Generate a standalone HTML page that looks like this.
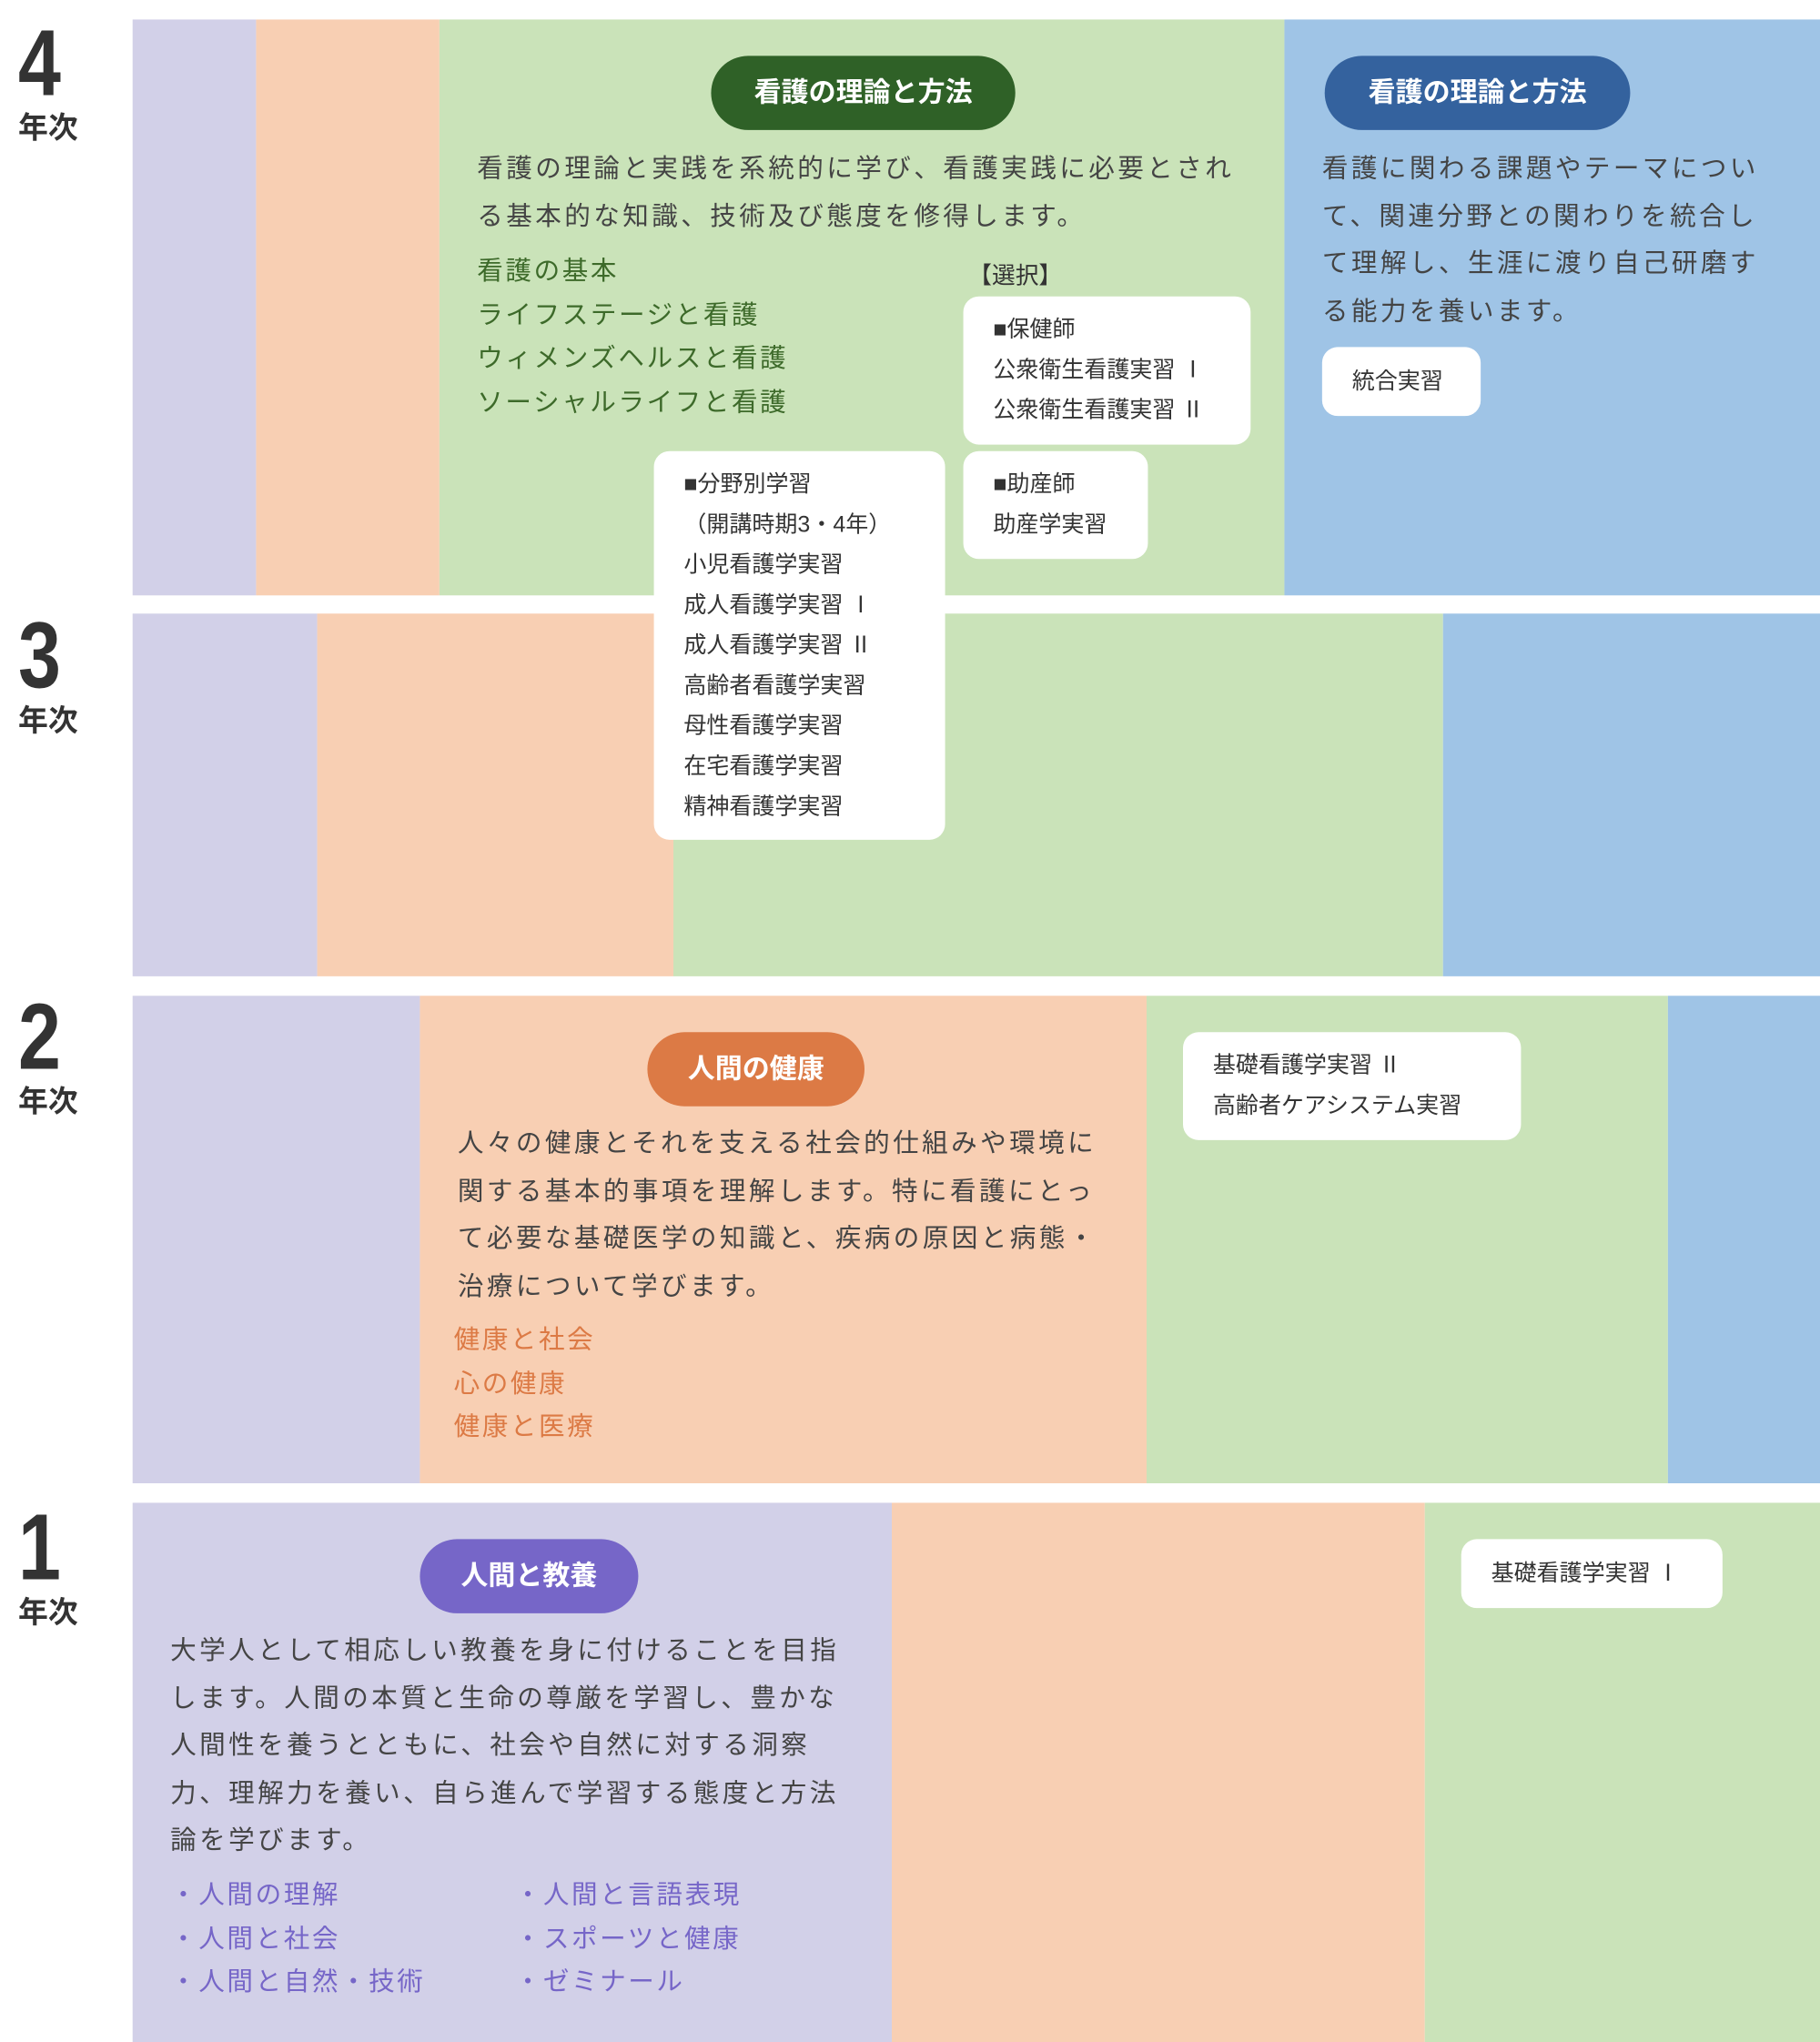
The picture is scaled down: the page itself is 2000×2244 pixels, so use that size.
<!DOCTYPE html>
<html><head><meta charset="utf-8"><style>
html,body{margin:0;padding:0;background:#fff;}
body{width:2000px;height:2244px;overflow:hidden;position:relative;}
#w{position:absolute;left:0;top:0;width:1400px;height:1571px;transform:scale(1.428571);transform-origin:0 0;font-family:"Liberation Sans","Noto Sans CJK JP",sans-serif;color:#333;}
.a{position:absolute;}
.L{background:#d2d0e8}.P{background:#f8cfb3}.G{background:#cae3b9}.B{background:#9fc4e6}
.yr{position:absolute;left:14px;width:60px;text-align:left;}
.yr b{display:block;font-size:72px;line-height:70px;font-weight:bold;color:#333;transform:scaleX(0.82);transform-origin:0 0;}
.yr span{display:block;font-size:23px;font-weight:bold;line-height:28px;margin-top:0px;}
.pill{position:absolute;height:57px;border-radius:29px;color:#fff;font-weight:bold;font-size:21px;line-height:57px;text-align:center;}
.t{position:absolute;font-size:20px;line-height:36.5px;letter-spacing:2.4px;color:#444;white-space:nowrap;}
.li{position:absolute;font-size:20px;line-height:33.5px;letter-spacing:1.8px;white-space:nowrap;}
.box{position:absolute;background:#fff;border-radius:12px;font-size:17.5px;line-height:31px;color:#333;padding:0 0 0 23px;box-sizing:border-box;white-space:nowrap;}
</style></head><body><div id="w">
<div class="a L" style="left:102px;top:15px;width:95px;height:443px"></div>
<div class="a P" style="left:197px;top:15px;width:141px;height:443px"></div>
<div class="a G" style="left:338px;top:15px;width:650px;height:443px"></div>
<div class="a B" style="left:988px;top:15px;width:412px;height:443px"></div>
<div class="a L" style="left:102px;top:472px;width:142px;height:279px"></div>
<div class="a P" style="left:244px;top:472px;width:274px;height:279px"></div>
<div class="a G" style="left:518px;top:472px;width:592px;height:279px"></div>
<div class="a B" style="left:1110px;top:472px;width:290px;height:279px"></div>
<div class="a L" style="left:102px;top:766px;width:221px;height:375px"></div>
<div class="a P" style="left:323px;top:766px;width:559px;height:375px"></div>
<div class="a G" style="left:882px;top:766px;width:401px;height:375px"></div>
<div class="a B" style="left:1283px;top:766px;width:117px;height:375px"></div>
<div class="a L" style="left:102px;top:1156px;width:584px;height:415px"></div>
<div class="a P" style="left:686px;top:1156px;width:410px;height:415px"></div>
<div class="a G" style="left:1096px;top:1156px;width:304px;height:415px"></div>

<div class="yr" style="top:14px"><b>4</b><span>年次</span></div>
<div class="yr" style="top:470px"><b>3</b><span>年次</span></div>
<div class="yr" style="top:763px"><b>2</b><span>年次</span></div>
<div class="yr" style="top:1156px"><b>1</b><span>年次</span></div>

<div class="pill" style="left:547px;top:43px;width:234px;background:#2f6127">看護の理論と方法</div>
<div class="t" style="left:367px;top:112px">看護の理論と実践を系統的に学び、看護実践に必要とされ<br>る基本的な知識、技術及び態度を修得します。</div>
<div class="li" style="left:367px;top:193px;color:#3d6a2a">看護の基本<br>ライフステージと看護<br>ウィメンズヘルスと看護<br>ソーシャルライフと看護</div>
<div class="a" style="left:745px;top:198px;font-size:18px;color:#333">【選択】</div>
<div class="box" style="left:741px;top:228px;width:221px;height:114px;padding-top:10px">■保健師<br>公衆衛生看護実習 Ⅰ<br>公衆衛生看護実習 Ⅱ</div>
<div class="box" style="left:741px;top:347px;width:142px;height:83px;padding-top:10px">■助産師<br>助産学実習</div>
<div class="box" style="left:503px;top:347px;width:224px;height:299px;padding-top:10px">■分野別学習<br>（開講時期3・4年）<br>小児看護学実習<br>成人看護学実習 Ⅰ<br>成人看護学実習 Ⅱ<br>高齢者看護学実習<br>母性看護学実習<br>在宅看護学実習<br>精神看護学実習</div>
<div class="pill" style="left:1019px;top:43px;width:235px;background:#34629e">看護の理論と方法</div>
<div class="t" style="left:1017px;top:112px">看護に関わる課題やテーマについ<br>て、関連分野との関わりを統合し<br>て理解し、生涯に渡り自己研磨す<br>る能力を養います。</div>
<div class="box" style="left:1017px;top:267px;width:122px;height:53px;line-height:53px">統合実習</div>

<div class="pill" style="left:498px;top:794px;width:167px;background:#dc7a45">人間の健康</div>
<div class="t" style="left:352px;top:862px">人々の健康とそれを支える社会的仕組みや環境に<br>関する基本的事項を理解します。特に看護にとっ<br>て必要な基礎医学の知識と、疾病の原因と病態・<br>治療について学びます。</div>
<div class="li" style="left:349px;top:1015px;color:#dc7a45">健康と社会<br>心の健康<br>健康と医療</div>
<div class="box" style="left:910px;top:794px;width:260px;height:83px;padding-top:10px">基礎看護学実習 Ⅱ<br>高齢者ケアシステム実習</div>

<div class="pill" style="left:323px;top:1184px;width:168px;background:#7666c8">人間と教養</div>
<div class="t" style="left:131px;top:1252px">大学人として相応しい教養を身に付けることを目指<br>します。人間の本質と生命の尊厳を学習し、豊かな<br>人間性を養うとともに、社会や自然に対する洞察<br>力、理解力を養い、自ら進んで学習する態度と方法<br>論を学びます。</div>
<div class="li" style="left:131px;top:1442px;color:#7666c8">・人間の理解<br>・人間と社会<br>・人間と自然・技術</div>
<div class="li" style="left:396px;top:1442px;color:#7666c8">・人間と言語表現<br>・スポーツと健康<br>・ゼミナール</div>
<div class="box" style="left:1124px;top:1184px;width:201px;height:53px;line-height:53px">基礎看護学実習 Ⅰ</div>
</div></body></html>
